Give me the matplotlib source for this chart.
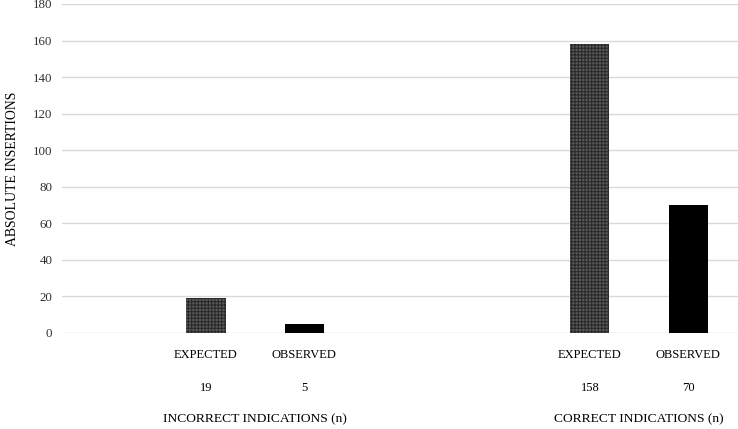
import matplotlib.pyplot as plt
import matplotlib.transforms as mtransforms

plt.rcParams['font.family'] = ['Liberation Serif', 'DejaVu Serif']
plt.rcParams['hatch.linewidth'] = 0.8

groups = ['INCORRECT INDICATIONS (n)', 'CORRECT INDICATIONS (n)']
series = ['EXPECTED', 'OBSERVED']
expected = [19, 158]
observed = [5, 70]
yticks = [0, 20, 40, 60, 80, 100, 120, 140, 160, 180]

fig = plt.figure(figsize=(7.38, 4.29), dpi=100)
ax = fig.add_axes([0.084, 0.2238, 0.916, 0.7669])

group_x = [0, 1]
offset = 0.128
width = 0.102

exp_x = [g - offset for g in group_x]
obs_x = [g + offset for g in group_x]

ax.bar(exp_x, expected, width=width, color='#5a5a5a', edgecolor='#2a2a2a',
       hatch='+++++', linewidth=0, zorder=3)
ax.bar(obs_x, observed, width=width, color='black', linewidth=0, zorder=3)

ax.set_xlim(-0.503, 1.258)
ax.set_ylim(0, 180)
ax.set_yticks(yticks)
ax.tick_params(axis='y', length=0, pad=7, labelsize=9.3, colors='#303030')
ax.set_xticks([])
ax.grid(axis='y', color='#d9d9d9', linewidth=1, zorder=0)
for s in ax.spines.values():
    s.set_visible(False)

ax.set_ylabel('ABSOLUTE INSERTIONS', fontsize=9.9)
ax.yaxis.set_label_coords(-0.063, 0.5)

trans = mtransforms.blended_transform_factory(ax.transData, fig.transFigure)
for i in range(len(groups)):
    ax.text(exp_x[i], 1 - 355 / 429, series[0], transform=trans,
            ha='center', va='center', fontsize=9)
    ax.text(obs_x[i], 1 - 355 / 429, series[1], transform=trans,
            ha='center', va='center', fontsize=9)
    ax.text(exp_x[i], 1 - 388 / 429, str(expected[i]), transform=trans,
            ha='center', va='center', fontsize=9)
    ax.text(obs_x[i], 1 - 388 / 429, str(observed[i]), transform=trans,
            ha='center', va='center', fontsize=9)
    ax.text(group_x[i], 1 - 419 / 429, groups[i], transform=trans,
            ha='center', va='center', fontsize=9.7)

fig.savefig('out.png', dpi=100)
